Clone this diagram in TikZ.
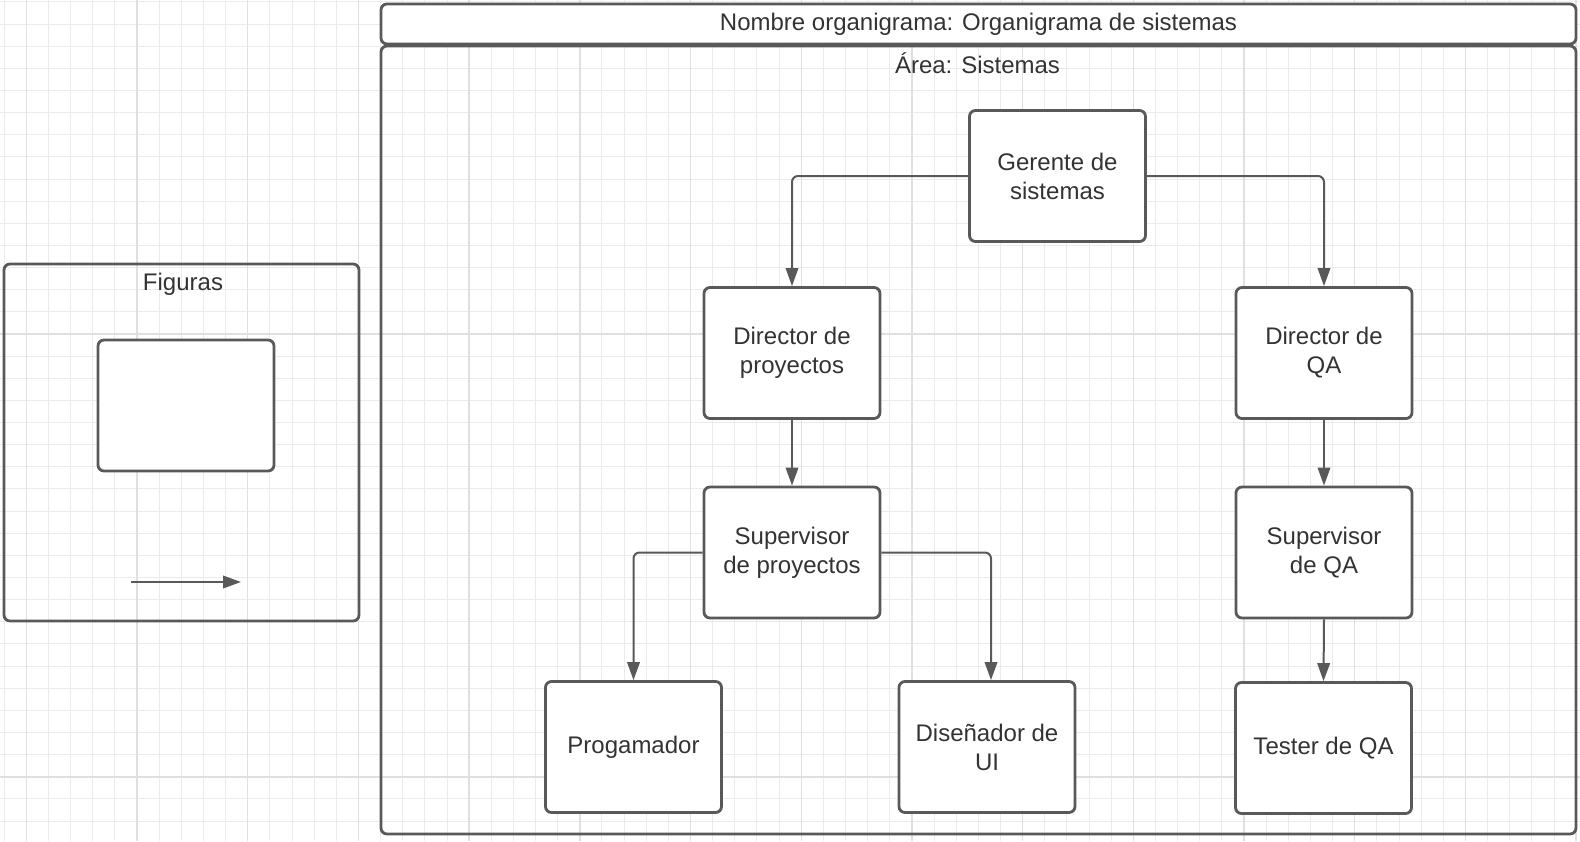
\documentclass[tikz,border=0pt]{standalone}
\usepackage{fontspec}
\setmainfont{Liberation Sans}
\usetikzlibrary{arrows.meta}
\definecolor{linegray}{HTML}{595959}
\definecolor{textgray}{HTML}{333333}
\definecolor{gridminor}{HTML}{EBEBEB}
\definecolor{gridmajor}{HTML}{E0E0E0}
\tikzset{
  box/.style={draw=linegray, line width=2.8pt, rounded corners=6pt, fill=white,
    minimum width=176pt, minimum height=131pt, inner sep=0pt, align=center,
    text=textgray, font=\fontsize{24}{29}\selectfont},
  frame/.style={draw=linegray, line width=2.8pt, rounded corners=6pt, inner sep=0pt},
  lbl/.style={text=textgray, font=\fontsize{24}{29}\selectfont, inner sep=0pt},
  conn/.style={draw=linegray, line width=2pt, rounded corners=6pt,
    -{Triangle[length=18pt,width=12.5pt]}},
  minorline/.style={draw=gridminor, line width=1pt},
  majorline/.style={draw=gridmajor, line width=1.4pt},
}
\begin{document}
\begin{tikzpicture}[x=1pt,y=-1pt]
\useasboundingbox[fill=white] (0,0) rectangle (1580,841);
% grid
\foreach \k in {0,...,71} \draw[minorline] ({4.2+22.14*\k},0) -- ({4.2+22.14*\k},841);
\foreach \k in {0,...,37} \draw[minorline] (0,{1.9+22.14*\k}) -- (1580,{1.9+22.14*\k});
\foreach \k in {1,6,...,71} \draw[majorline] ({4.2+22.14*\k},0) -- ({4.2+22.14*\k},841);
\foreach \k in {15,35} \draw[majorline] (0,{1.9+22.14*\k}) -- (1580,{1.9+22.14*\k});

% legend panel
\node[frame, minimum width=355pt, minimum height=357pt] (fig) at (181.5,442.5) {};
\node[lbl] (figt) at (183,284) {Figuras};
\node[box, minimum width=176pt, minimum height=131pt] (sample) at (186,405.5) {};
\coordinate (a1) at (131,582);
\coordinate (a2) at (241,582);
\draw[conn] (a1) -- (a2);

% main container
\node[frame, minimum width=1195pt, minimum height=788pt] (area) at (978.5,440) {};
\node[frame, fill=white, minimum width=1195pt, minimum height=40pt, text=textgray,
  font=\fontsize{24}{29}\selectfont] (title) at (978.5,24) {Nombre organigrama: Organigrama de sistemas};
\node[lbl] (areat) at (977.5,63) {Área: Sistemas};

% org nodes
\node[box] (ger) at (1057.5,176) {Gerente de\\sistemas};
\node[box] (dp) at (792,353) {Director de\\proyectos};
\node[box] (dq) at (1324,353) {Director de\\QA};
\node[box] (sp) at (792,552.5) {Supervisor\\de proyectos};
\node[box] (sq) at (1324,552.5) {Supervisor\\de QA};
\node[box] (prog) at (633.5,747) {Progamador};
\node[box] (dis) at (987,747) {Diseñador de\\UI};
\node[box] (tes) at (1323.5,748) {Tester de QA};

\coordinate (disin) at ([xshift=4pt]dis.north);

\draw[conn] (ger.west) -| (dp.north);
\draw[conn] (ger.east) -| (dq.north);
\draw[conn] (dp.south) -- (sp.north);
\draw[conn] (dq.south) -- (sq.north);
\draw[conn] (sp.west) -| (prog.north);
\draw[conn] (sp.east) -| (disin);
\draw[conn] (sq.south) -- (tes.north);
\end{tikzpicture}
\end{document}
